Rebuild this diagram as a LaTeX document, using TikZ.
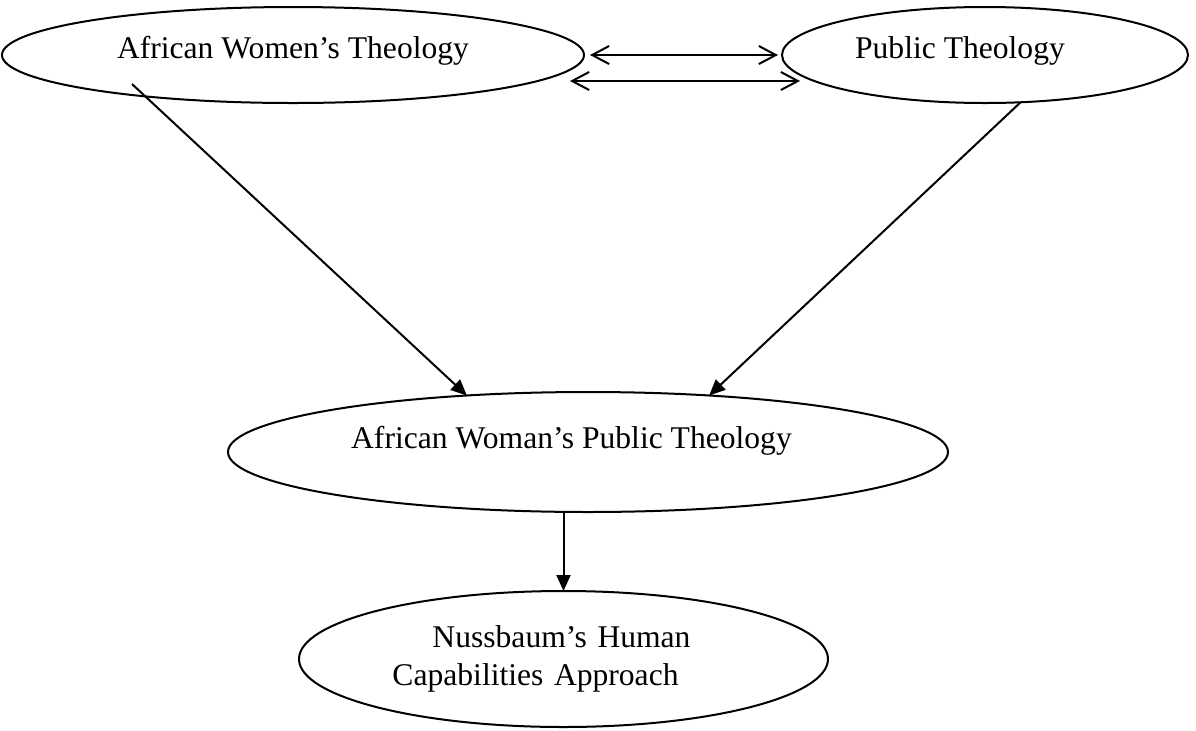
\documentclass[tikz,border=0pt]{standalone}
\usepackage{fontspec}
\setmainfont{Liberation Serif}
\usetikzlibrary{arrows.meta,positioning,shapes.geometric}

\begin{document}
\begin{tikzpicture}[
    oval/.style={draw, ellipse, line width=1pt, inner sep=0pt, outer sep=0pt,
                 font=\fontsize{15.8pt}{19pt}\selectfont},
    topoval/.style={oval, minimum height=48pt, text height=10.5pt, text depth=7pt},
    arr/.style={-{Triangle[length=8pt, width=7pt]}, line width=1pt},
    dblarr/.style={{Straight Barb[length=8.5pt, width=9pt]}-{Straight Barb[length=8.5pt, width=9pt]},
                   line width=1pt},
]
\useasboundingbox (-146.5pt,27.5pt) rectangle (451.5pt,-337.5pt);

% Top row: the two theologies
\node[topoval, minimum width=291pt] (awt) {African Women's Theology};
\node[topoval, minimum width=203pt, right=99pt of awt] (pt) {Public Theology\hspace*{25pt}};

% Middle: combined theology
\node[oval, minimum width=360pt, minimum height=60pt, text height=11pt, text depth=15pt,
      below=144.5pt of awt, xshift=147.5pt] (awpt) {African Woman's Public Theology\hspace*{16.5pt}};

% Bottom: capabilities approach
\node[oval, minimum width=264.5pt, minimum height=68pt, align=left, text width=171pt,
      below=39.5pt of awpt, xshift=-12.25pt] (nhca)
      {\hspace*{20pt}Nussbaum's Human\\Capabilities Approach};

% Free ends
\coordinate (awt_in) at ([xshift=-80.5pt, yshift=-14.5pt]awt.center);
\coordinate (lo_l)   at ([xshift=-7pt, yshift=-13pt]awt.east);
\coordinate (lo_r)   at ([xshift=9pt, yshift=-13pt]pt.west);

% ── Arrows ──
\draw[dblarr, shorten <=3pt, shorten >=2pt] (awt.east) -- (pt.west);
\draw[dblarr] (lo_l) -- (lo_r);

\draw[arr] (awt_in) -- (awpt.155);
\draw[arr] (pt.-53) -- (awpt.25);
\draw[arr] (awpt.south -| nhca.north) -- (nhca.north);

\end{tikzpicture}
\end{document}
